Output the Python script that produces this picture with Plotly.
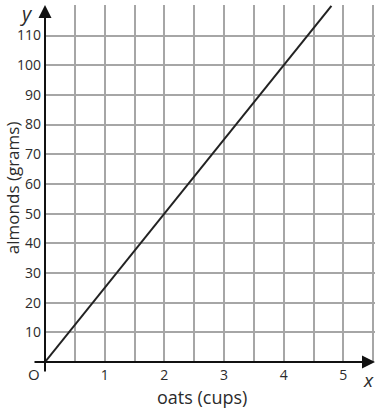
import plotly.graph_objects as go

oats = [0, 4.8]
almonds = [0, 120]

x_tickvals = [0.5, 1, 1.5, 2, 2.5, 3, 3.5, 4, 4.5, 5, 5.5]
x_ticktext = ["", "1", "", "2", "", "3", "", "4", "", "5", ""]
y_tickvals = [10, 20, 30, 40, 50, 60, 70, 80, 90, 100, 110, 120]
y_ticktext = ["10", "20", "30", "40", "50", "60", "70", "80", "90", "100", "110", ""]

FONT = "Open Sans"
TXT = "#2b2b2b"
fig = go.Figure()
fig.add_trace(go.Scatter(x=oats, y=almonds, mode="lines",
                         line=dict(color="#222222", width=2), hoverinfo="skip"))

fig.update_layout(
    width=378, height=417,
    margin=dict(l=45, r=3, t=5, b=55, autoexpand=False),
    paper_bgcolor="white", plot_bgcolor="white",
    showlegend=False,
    font=dict(family=FONT, size=14, color=TXT),
    xaxis=dict(range=[0, 5.53], tickvals=x_tickvals, ticktext=x_ticktext,
               showgrid=True, gridcolor="#a6a6a6", gridwidth=1.5,
               zeroline=False, showline=False, ticks="", ticklabelstandoff=3,
               tickfont=dict(family=FONT, size=14, color=TXT),
               automargin=False, fixedrange=True),
    yaxis=dict(range=[0, 120.3], tickvals=y_tickvals, ticktext=y_ticktext,
               showgrid=True, gridcolor="#a6a6a6", gridwidth=1.5,
               zeroline=False, showline=False, ticks="", ticklabelstandoff=3,
               tickfont=dict(family=FONT, size=14, color=TXT),
               automargin=False, fixedrange=True),
)

# axes with arrows (paper coords, tails in pixels)
fig.add_annotation(x=1.0, y=0, xref="paper", yref="paper", ax=-342, ay=0,
                   showarrow=True, arrowhead=2, arrowsize=1.3, arrowwidth=2,
                   arrowcolor="#111111", text="")
fig.add_annotation(x=0, y=1.0, xref="paper", yref="paper", ax=0, ay=368,
                   showarrow=True, arrowhead=2, arrowsize=1.3, arrowwidth=2,
                   arrowcolor="#111111", text="")

# axis letters and titles
fig.add_annotation(x=-0.055, y=0.975, xref="paper", yref="paper", text="<i>y</i>", showarrow=False,
                   font=dict(family=FONT, size=20, color=TXT), xanchor="center", yanchor="middle")
fig.add_annotation(x=0.979, y=-0.05, xref="paper", yref="paper", text="<i>x</i>", showarrow=False,
                   font=dict(family=FONT, size=19, color=TXT), xanchor="center", yanchor="middle")
fig.add_annotation(x=-0.033, y=-0.034, xref="paper", yref="paper", text="O", showarrow=False,
                   font=dict(family=FONT, size=15, color=TXT), xanchor="center", yanchor="middle")
fig.add_annotation(x=0.476, y=-0.098, xref="paper", yref="paper", text="oats (cups)", showarrow=False,
                   font=dict(family=FONT, size=18, color=TXT), xanchor="center", yanchor="middle")
fig.add_annotation(x=-0.1, y=0.487, xref="paper", yref="paper", text="almonds (grams)", showarrow=False,
                   textangle=-90,
                   font=dict(family=FONT, size=17, color=TXT), xanchor="center", yanchor="middle")

fig.write_html("out.html", config={"displayModeBar": False},
               post_script="document.body.style.margin='0';document.body.style.padding='0';")
